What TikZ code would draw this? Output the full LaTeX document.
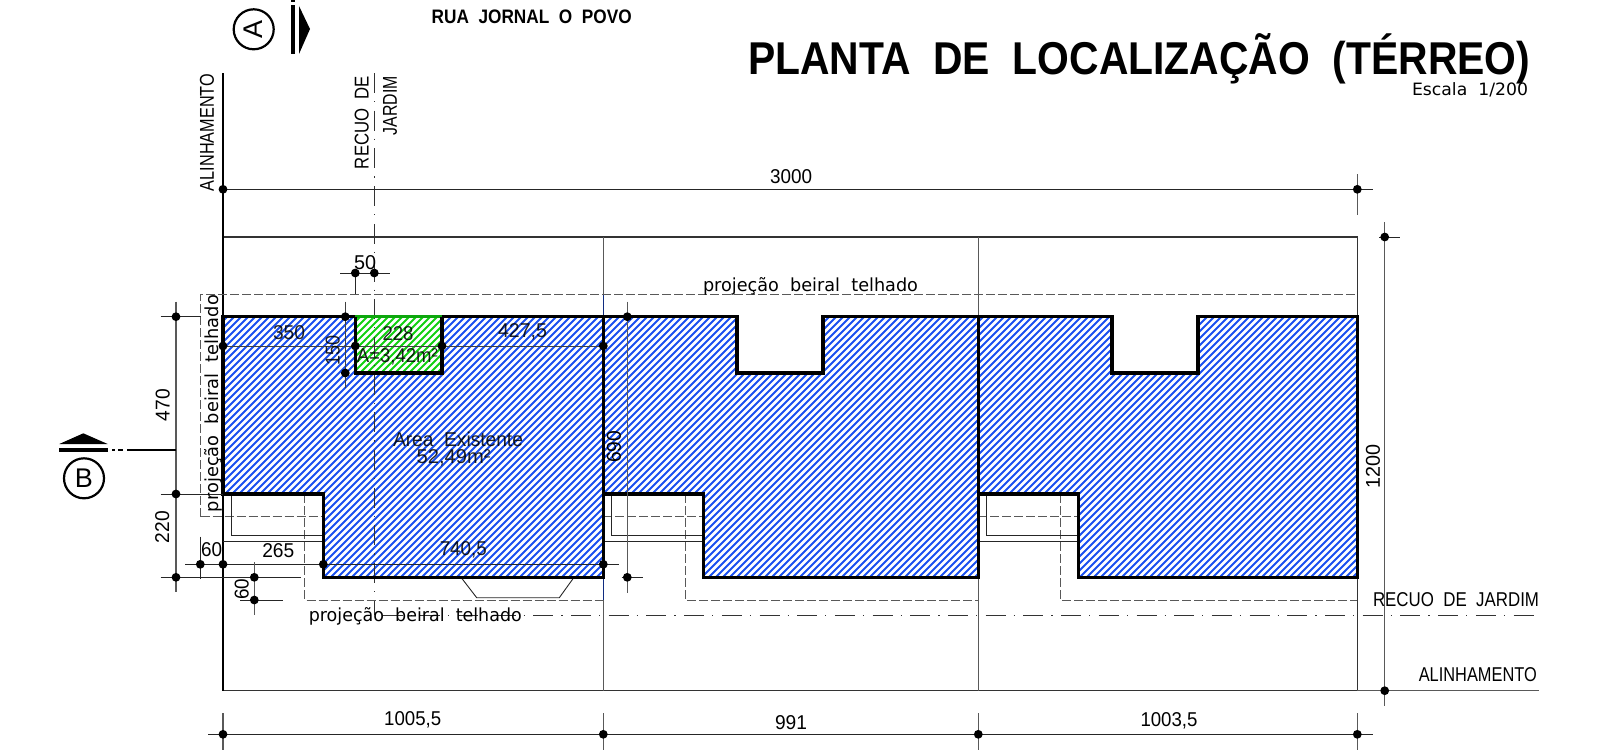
\documentclass[tikz,border=0pt]{standalone}
\usepackage{graphicx}
\usepackage{fontspec}
\setmainfont{Liberation Sans}
\newfontfamily\lowfont{DejaVu Sans}
\newcommand{\fw}[2]{\resizebox{#1pt}{\height}{#2}}
\definecolor{hatchblue}{HTML}{1A50F0}
\definecolor{hatchgreen}{HTML}{12D012}
\definecolor{wallnavy}{HTML}{102C80}
\tikzset{
  thinl/.style={line width=0.9pt,draw=black!85},
  greyl/.style={line width=1.1pt,draw=black!65},
  wall/.style={line width=3.4pt,draw=black,line join=miter,line cap=butt},
  dashl/.style={line width=1pt,draw=black!65,dash pattern=on 9pt off 3pt},
  axisl/.style={line width=0.9pt,draw=black!80,dash pattern=on 20pt off 8pt on 1.2pt off 8.5pt},
  lbl/.style={inner sep=0pt,anchor=center,text=black,font=\fontsize{20}{22}\selectfont},
  lowlbl/.style={inner sep=0pt,anchor=center,text=black,font=\lowfont\fontsize{18}{20}\selectfont},
  onhatch/.style={text opacity=0.85},
  hatchl/.style={line width=1.95pt},
  mk/.style={fill=black,draw=none}
}
\newcommand{\dimdot}[2]{\fill[mk] (#1,#2) circle (4.4pt);}
\begin{document}
\begin{tikzpicture}[x=1pt,y=-1pt]
\useasboundingbox (0,0) rectangle (1602,752);
% hatching of the three buildings
\begin{scope}
\clip (223,316.7) -- (603.3,316.7) -- (603.3,577.3) -- (323.3,577.3) -- (323.3,494) -- (223,494) -- cycle
      (603.3,316.7) -- (737,316.7) -- (737,373) -- (823,373) -- (823,316.7) -- (978.3,316.7) -- (978.3,577.3) -- (703.3,577.3) -- (703.3,494) -- (603.3,494) -- cycle
      (978.3,316.7) -- (1112,316.7) -- (1112,373) -- (1198,373) -- (1198,316.7) -- (1357.3,316.7) -- (1357.3,577.3) -- (1078.3,577.3) -- (1078.3,494) -- (978.3,494) -- cycle;
\foreach \i in {0,1,...,206} \draw[hatchl,hatchblue] ({-70+7*\i},600) -- ({-70+7*\i+300},300);
\end{scope}
\fill[white] (355.3,316.7) rectangle (442,373);
\begin{scope}
\clip (355.3,316.7) rectangle (442,373);
\foreach \i in {0,1,...,56} \draw[hatchl,hatchgreen] ({63+7*\i},600) -- ({63+7*\i+300},300);
\end{scope}
% lot and setback lines
\draw[line width=1.2pt,draw=black!80] (223,237) -- (1357.3,237) -- (1357.3,690.7) -- (223,690.7);
\draw[line width=1.4pt,draw=black] (223,73) -- (223,690.7);
\draw[greyl] (603.3,237) -- (603.3,690.7);
\draw[wallnavy,line width=1.1pt] (603.3,294) -- (603.3,600);
\draw[greyl] (978.3,237) -- (978.3,690.7);
\draw[greyl] (1357.3,690.7) -- (1539,690.7);
\draw[axisl] (374,73) -- (374,615);
\draw[axisl,dash phase=29.2pt] (374,615) -- (1539,615);
% eaves projections
\draw[dashl] (200.7,516.7) -- (200.7,294) -- (1357.3,294);
\draw[dashl] (200.7,516.7) -- (323.3,516.7);
\draw[dashl] (603.3,516.7) -- (703.3,516.7);
\draw[dashl] (978.3,516.7) -- (1078.3,516.7);
\draw[dashl] (304.7,494) -- (304.7,600) -- (603.3,600);
\draw[dashl] (685,494) -- (685,600) -- (978.3,600);
\draw[dashl] (1060,494) -- (1060,600) -- (1357.3,600);
% recesses
\foreach \o in {0,380.5,755.3}{
  \draw[thinl] ({231.3+\o},494) -- ({231.3+\o},535.3) -- ({323.3+\o},535.3);
  \draw[thinl] ({223+\o},541.7) -- ({323.3+\o},541.7);
}
\draw[thinl] (461,577.3) -- (476.7,597.7) -- (559.3,597.7) -- (574,577.3);
% walls
\draw[wall] (355.3,316.7) -- (223,316.7) -- (223,494) -- (323.3,494) -- (323.3,577.3) -- (603.3,577.3) -- (603.3,316.7) -- (442,316.7);
\draw[line width=2.6pt,draw=hatchgreen!80!black] (355.3,316.7) -- (442,316.7);
\draw[wall] (355.3,316.7) -- (355.3,373) -- (442,373) -- (442,316.7);
\draw[wall] (603.3,316.7) -- (737,316.7) -- (737,373) -- (823,373) -- (823,316.7) -- (978.3,316.7) -- (978.3,577.3) -- (703.3,577.3) -- (703.3,494) -- (603.3,494);
\draw[wall] (978.3,316.7) -- (1112,316.7) -- (1112,373) -- (1198,373) -- (1198,316.7) -- (1357.3,316.7) -- (1357.3,577.3) -- (1078.3,577.3) -- (1078.3,494) -- (978.3,494);
% dimensions
\draw[thinl] (223,189.3) -- (1372.7,189.3);
\draw[greyl] (1357.3,174) -- (1357.3,215);
\dimdot{223}{189.3}\dimdot{1357.3}{189.3}
\draw[thinl] (340,273) -- (390,273);
\draw[thinl] (355.3,273) -- (355.3,294);
\dimdot{355.3}{273}\dimdot{374.3}{273}
\draw[greyl] (176,301.7) -- (176,592);
\draw[thinl] (160.7,316.7) -- (200.7,316.7);
\draw[thinl] (160.7,494) -- (223,494);
\draw[thinl] (160.7,577.3) -- (301,577.3);
\dimdot{176}{316.7}\dimdot{176}{494}\dimdot{176}{577.3}
\draw[line width=0.7pt,draw=black!75] (223,346) -- (603.3,346);
\dimdot{223}{346}\dimdot{355.3}{346}\dimdot{442}{346}\dimdot{603.3}{346}
\draw[line width=0.7pt,draw=black!75] (345.3,301.7) -- (345.3,388);
\dimdot{345.3}{316.7}\dimdot{345.3}{373}
\draw[thinl] (185,564.3) -- (619,564.3);
\draw[thinl] (200.3,536.7) -- (200.3,579);
\dimdot{200.3}{564.3}\dimdot{223}{564.3}\dimdot{323.3}{564.3}\dimdot{603.3}{564.3}
\draw[greyl] (254.3,562) -- (254.3,615);
\draw[thinl] (240,600) -- (282.7,600);
\dimdot{254.3}{577.3}\dimdot{254.3}{600}
\draw[greyl] (627.3,301.7) -- (627.3,592.7);
\draw[thinl] (621.7,577.3) -- (642.7,577.3);
\dimdot{627.3}{316.7}\dimdot{627.3}{577.3}
\draw[greyl] (1384.7,222) -- (1384.7,705.7);
\draw[thinl] (1379,237) -- (1400,237);
\dimdot{1384.7}{237}\dimdot{1384.7}{690.7}
\draw[thinl] (208,734.3) -- (1372.7,734.3);
\foreach \x in {223,603.3,978.3,1357.3}{
  \draw[greyl] (\x,713) -- (\x,750);
  \dimdot{\x}{734.3}
}
% section marks
\node[draw=black,line width=2.2pt,circle,minimum size=40pt,inner sep=0pt] (secA) at (253.7,29.3) {};
\node[lbl,rotate=90,font=\fontsize{27}{30}\selectfont] (secAt) at (secA) {A};
\fill[black] (291,5) rectangle (295,54);
\fill[black] (291,0) rectangle (295,2);
\fill[black] (299,6) -- (310,29) -- (299,54) -- cycle;
\node[draw=black,line width=2.2pt,circle,minimum size=40pt,inner sep=0pt] (secB) at (84,478.3) {};
\node[lbl,font=\fontsize{27}{30}\selectfont] (secBt) at (secB) {B};
\fill[black] (59.3,444) -- (83.3,433.3) -- (107.7,444) -- cycle;
\fill[black] (59,448.3) rectangle (108,451.7);
\fill[black] (111.7,448.8) rectangle (115,451.2);
\fill[black] (118,448.8) rectangle (123.3,451.2);
\fill[black] (127,448.8) rectangle (176,451.2);
% texts
\node[inner sep=0pt,anchor=base west,font=\bfseries\fontsize{46}{50}\selectfont] (title) at (748,74.3) {\fw{782}{PLANTA\ \ DE\ \ LOCALIZAÇÃO\ \ (TÉRREO)}};
\node[lowlbl,font=\lowfont\fontsize{17}{20}\selectfont] (scale) at (1470,90) {\fw{116}{Escala\ \ 1/200}};
\node[lbl,font=\bfseries\fontsize{19.5}{22}\selectfont] (street) at (531.7,17) {\fw{200}{RUA\ \ JORNAL\ \ O\ \ POVO}};
\node[lbl,rotate=90] (t1) at (207,132.5) {\fw{117}{ALINHAMENTO}};
\node[lbl,rotate=90] (t2) at (361.7,122.5) {\fw{93}{RECUO\ \ DE}};
\node[lbl,rotate=90] (t3) at (390,105.5) {\fw{59}{JARDIM}};
\node[lbl] (d3000) at (791,177) {\fw{42}{3000}};
\node[lbl] (d50) at (365,262.7) {\fw{22}{50}};
\node[lbl,onhatch] (d350) at (289,332.7) {\fw{32}{350}};
\node[lbl,rotate=90,onhatch] (d150) at (332.7,350.7) {\fw{30}{150}};
\node[lbl,onhatch] (d228) at (398,333.3) {\fw{31}{228}};
\node[lbl,onhatch] (dA) at (397.3,356.7) {\fw{81}{A=3,42m²}};
\node[lbl,onhatch] (d4275) at (522.5,331.7) {\fw{49}{427,5}};
\node[lbl,onhatch] (area1) at (458,439) {\fw{130}{Area\ \ Existente}};
\node[lbl,onhatch] (area2) at (453.7,458) {\fw{74}{52,49m²}};
\node[lbl,rotate=90] (d690) at (614,446.7) {\fw{32}{690}};
\node[lbl,rotate=90] (d470) at (162.7,405) {\fw{32}{470}};
\node[lbl,rotate=90] (d220) at (162.3,527.3) {\fw{32}{220}};
\node[lbl] (d60a) at (211.7,549.3) {\fw{21}{60}};
\node[lbl] (d265) at (278.3,550.7) {\fw{32}{265}};
\node[lbl,onhatch] (d7405) at (463.3,549.3) {\fw{47}{740,5}};
\node[lbl,rotate=90] (d60b) at (241.7,589) {\fw{21}{60}};
\node[lbl] (d10055) at (412.7,719.3) {\fw{57}{1005,5}};
\node[lbl] (d991) at (791,723) {\fw{32}{991}};
\node[lbl] (d10035) at (1169,721) {\fw{57}{1003,5}};
\node[lbl,rotate=90] (d1200) at (1373,466) {\fw{44}{1200}};
\node[lowlbl] (p1) at (810.5,286) {\fw{215}{projeção\ \ beiral\ \ telhado}};
\node[lowlbl,rotate=90] (p2) at (213,403.5) {\fw{217}{projeção\ \ beiral\ \ telhado}};
\node[lowlbl] (p3) at (415.3,616.5) {\fw{213}{projeção\ \ beiral\ \ telhado}};
\node[lbl] (r1) at (1456,600) {\fw{166}{RECUO\ \ DE\ \ JARDIM}};
\node[lbl] (r2) at (1477.8,675) {\fw{118}{ALINHAMENTO}};
\end{tikzpicture}
\end{document}
